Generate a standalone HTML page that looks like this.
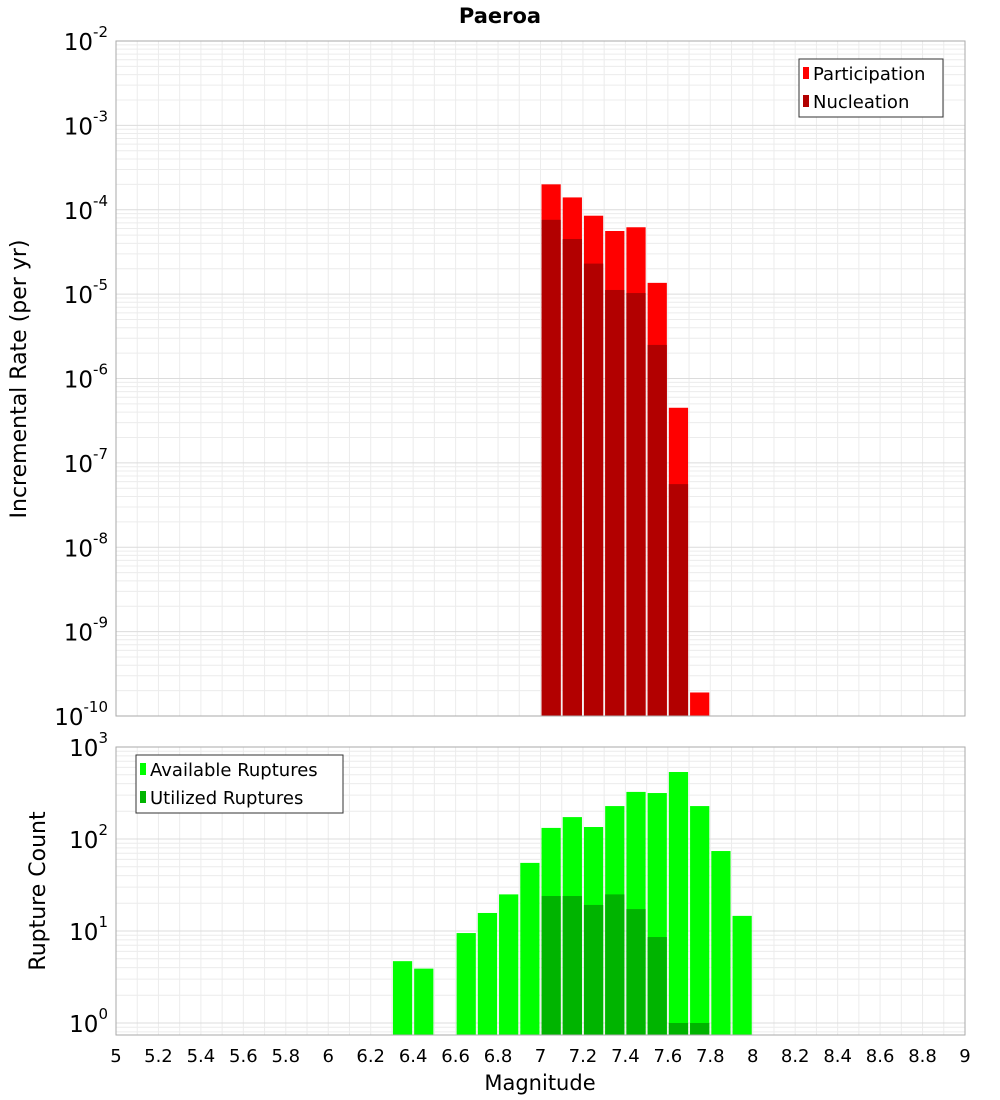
<!DOCTYPE html>
<html><head><meta charset="utf-8">
<style>
body{margin:0;background:#fff;}
svg{display:block;font-family:"DejaVu Sans","Liberation Sans",sans-serif;}
</style></head>
<body>
<svg id="chart" width="1000" height="1100" viewBox="0 0 1000 1100" xmlns="http://www.w3.org/2000/svg">
<text x="500" y="23" text-anchor="middle" font-size="21" font-weight="bold">Paeroa</text>
<g id="top"></g>
<g id="bot"></g>
<text transform="translate(26,379) rotate(-90)" text-anchor="middle" font-size="22">Incremental Rate (per yr)</text>
<text transform="translate(45,891) rotate(-90)" text-anchor="middle" font-size="22">Rupture Count</text>
<text x="540" y="1090" text-anchor="middle" font-size="21">Magnitude</text>
</svg>
<script>
const mags = [6.35,6.45,6.55,6.65,6.75,6.85,6.95,7.05,7.15,7.25,7.35,7.45,7.55,7.65,7.75,7.85,7.95];
const participation = [0,0,0,0,0,0,0,2.0e-4,1.4e-4,8.5e-5,5.6e-5,6.2e-5,1.36e-5,4.5e-7,1.9e-10,0,0];
const nucleation = [0,0,0,0,0,0,0,7.6e-5,4.5e-5,2.3e-5,1.12e-5,1.03e-5,2.5e-6,5.6e-8,0,0,0];
const available = [4.7,3.9,0,9.5,15.7,25,55,132,173,135,228,325,316,535,228,74,14.6];
const utilized = [0,0,0,0,0,0,0,24,24,19.2,25,17.3,8.6,1,1,0,0];
const xTicks = [5,5.2,5.4,5.6,5.8,6,6.2,6.4,6.6,6.8,7,7.2,7.4,7.6,7.8,8,8.2,8.4,8.6,8.8,9];
const topExps = [-2,-3,-4,-5,-6,-7,-8,-9,-10];
const botExps = [3,2,1,0];

const NS="http://www.w3.org/2000/svg";
const L=116,R=965;
const xs=m=>L+(m-5)/4*(R-L);
const T1=41,B1=716;
const y1=v=>T1+(-2-Math.log10(v))*(B1-T1)/8;
const T2=747,B2=1035,D2=92;
const y2=v=>T2+(3-Math.log10(v))*D2;
function el(p,tag,a){const e=document.createElementNS(NS,tag);for(const k in a)e.setAttribute(k,a[k]);p.appendChild(e);return e;}

function drawGrid(g,t,b,yf,lo,hi){
  for(let i=0;i<=40;i++){
    const m=5+i*0.1;
    const l=el(g,'line',{x1:xs(m),x2:xs(m),y1:t,y2:b,stroke:'#ececec','stroke-width':1});
    
    
  }
  for(let e=lo;e<hi;e++)for(let k=1;k<10;k++){
    const y=yf(k*Math.pow(10,e));if(y<t||y>b)continue;
    const l=el(g,'line',{x1:L,x2:R,y1:y,y2:y,stroke:k==1?'#dcdcdc':'#ececec','stroke-width':1});
    
    
  }
}
const gTop=document.getElementById('top'),gBot=document.getElementById('bot');
drawGrid(gTop,T1,B1,y1,-10,-2);
drawGrid(gBot,T2,B2,y2,-1,3);
const bw=(R-L)/40;
function bars(g,vals,yf,bottom,color,name){
  vals.forEach((v,i)=>{
    if(!(v>0))return;
    const x=xs(mags[i]-0.05),y=Math.max(yf(v),0);
    const r=el(g,'rect',{x:x+1,y:y,width:bw-2,height:Math.max(bottom-y,0),fill:color});
    
    
  });
}
bars(gTop,participation,y1,B1,'#ff0000','participation-bar');
bars(gTop,nucleation,y1,B1,'#b20000','nucleation-bar');
bars(gBot,available,y2,B2,'#00ff00','available-ruptures-bar');
bars(gBot,utilized,y2,B2,'#00b400','utilized-ruptures-bar');
const svgRoot=document.getElementById('chart');
[[T1,B1],[T2,B2]].forEach(([t,b])=>{
  const r=el(svgRoot,'rect',{x:L,y:t,width:R-L,height:b-t,fill:'none',stroke:'#aaa','stroke-width':1});
  
  
});
function expLabel(g,e,y){
  const t=el(g,'text',{x:108,y:y+9,'text-anchor':'end','font-size':23});
  
  
  t.textContent='10';
  const s=el(t,'tspan',{dy:-13,'font-size':15});
  s.textContent=String(e);
}
topExps.forEach(e=>expLabel(gTop,e,y1(Math.pow(10,e))));
botExps.forEach(e=>expLabel(gBot,e,y2(Math.pow(10,e))));
xTicks.forEach(m=>{
  const t=el(gBot,'text',{x:xs(m),y:1062,'text-anchor':'middle','font-size':18});
  
  
  t.textContent=String(m);
});
function legend(g,x,y,w,items){
  const r=el(g,'rect',{x:x,y:y,width:w,height:58,fill:'#fff',stroke:'#333','stroke-width':1});
  
  
  items.forEach(([c,lab],i)=>{
    const s=el(g,'rect',{x:x+4,y:y+8+i*28,width:6,height:12,fill:c});
    
    
    const t=el(g,'text',{x:x+14,y:y+21+i*28,'font-size':18});
    
    
    t.textContent=lab;
  });
}
legend(gTop,799,59,144,[['#ff0000','Participation'],['#b20000','Nucleation']]);
legend(gBot,136,755,207,[['#00ff00','Available Ruptures'],['#00b400','Utilized Ruptures']]);
</script>
</body></html>
